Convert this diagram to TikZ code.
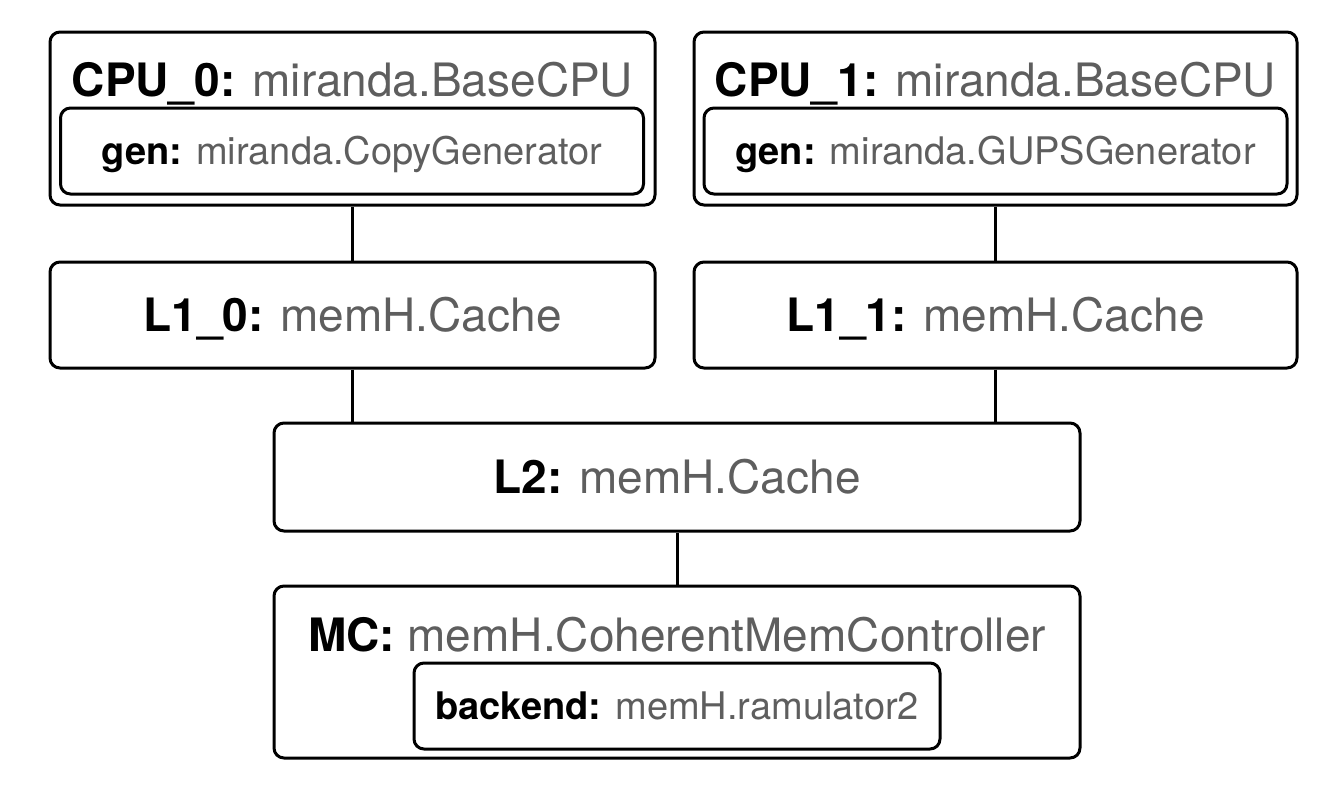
\documentclass[tikz,border=0pt]{standalone}
\usepackage{fontspec}
\setmainfont{TeX Gyre Heros}
\usepackage{tikz}
\usetikzlibrary{positioning}

\definecolor{typegrey}{HTML}{5E5E5E}
\newcommand{\comp}[2]{\textbf{#1:} \textcolor{typegrey}{#2}}

\tikzset{
	block/.style={draw, line width=1.5pt, rounded corners=5pt, align=center,
		font=\fontsize{23}{27}\selectfont, text height=16.5pt, text depth=0pt},
	subblock/.style={block, font=\fontsize{19}{23}\selectfont, text height=13.6pt},
	title/.style={font=\fontsize{23}{27}\selectfont, text height=16.5pt, text depth=0pt, inner sep=0pt},
	link/.style={draw, line width=1.5pt},
}

\begin{document}
\begin{tikzpicture}[x=0.5pt, y=-0.5pt]
	\useasboundingbox (0,0) rectangle (1334,788);
	% cpus with their generators
	\node[block, minimum width=302.5pt, minimum height=86.5pt] (cpu0) at (352.5,118.5) {};
	\node[title] (cpu0lbl) at (352.5,80) {\comp{CPU\_0}{miranda.BaseCPU}};
	\node[subblock, minimum width=291.5pt, minimum height=43pt] (gen0) at (352,151) {\comp{gen}{miranda.CopyGenerator}};
	\node[block, minimum width=301.5pt, minimum height=86.5pt] (cpu1) at (995.5,118.5) {};
	\node[title] (cpu1lbl) at (995.5,80) {\comp{CPU\_1}{miranda.BaseCPU}};
	\node[subblock, minimum width=291.5pt, minimum height=43pt] (gen1) at (995.5,151) {\comp{gen}{miranda.GUPSGenerator}};
	% caches
	\node[block, minimum width=302.5pt, minimum height=53pt, below=27pt of cpu0] (l10) {\comp{L1\_0}{memH.Cache}};
	\node[block, minimum width=301.5pt, minimum height=53pt, below=27pt of cpu1] (l11) {\comp{L1\_1}{memH.Cache}};
	\node[block, minimum width=403pt, minimum height=54pt] (l2) at (677,477) {\comp{L2}{memH.Cache}};
	% memory controller
	\node[block, minimum width=403pt, minimum height=86pt] (mc) at (677,672) {};
	\node[title] (mclbl) at (677,635) {\comp{MC}{memH.CoherentMemController}};
	\node[subblock, minimum width=263pt, minimum height=43pt] (backend) at (677,706) {\comp{backend}{memH.ramulator2}};

	\draw[link] (cpu0) -- (l10);
	\draw[link] (cpu1) -- (l11);
	\draw[link] (l10.south) -- (l10.south |- l2.north);
	\draw[link] (l11.south) -- (l11.south |- l2.north);
	\draw[link] (l2) -- (mc);
\end{tikzpicture}
\end{document}
